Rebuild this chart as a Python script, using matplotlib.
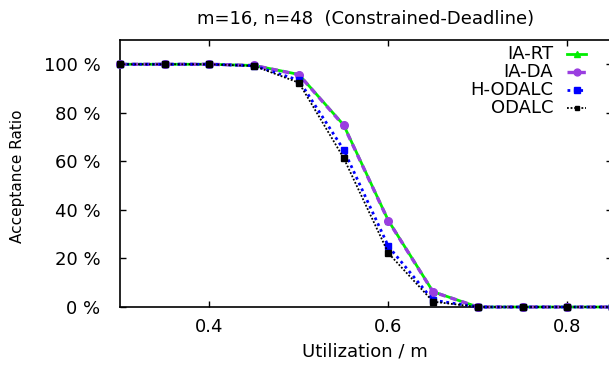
import matplotlib
matplotlib.use("Agg")
import matplotlib.pyplot as plt
from matplotlib.lines import Line2D

plt.rcParams['font.family'] = ['DejaVu Sans']

# data
util = [0.30, 0.35, 0.40, 0.45, 0.50, 0.55, 0.60, 0.65, 0.70, 0.75, 0.80, 0.85]
ia_rt = [100, 100, 100, 99.5, 95.8, 75.0, 35.6, 6.3, 0, 0, 0, 0]
ia_da = [100, 100, 100, 99.5, 95.7, 74.8, 35.5, 6.2, 0, 0, 0, 0]
h_odalc = [100, 100, 100, 99.4, 93.4, 64.8, 25.0, 2.8, 0, 0, 0, 0]
odalc = [100, 100, 100, 99.3, 92.4, 61.4, 22.2, 2.2, 0, 0, 0, 0]

names = ['IA-RT', 'IA-DA', 'H-ODALC', 'ODALC']
series = [ia_rt, ia_da, h_odalc, odalc]
styles = [
    dict(color='#00ee00', lw=2, ls='-', marker='^', ms=5),
    dict(color='#9a3ee0', lw=2.4, ls=(0, (2, 1.5)), marker='o', ms=5.5),
    dict(color='#0000ff', lw=2, ls=(0, (1, 1.3)), marker='s', ms=4.8),
    dict(color='black', lw=1.3, ls=(0, (1, 1)), marker='s', ms=3.8),
]

xticks = [0.4, 0.6, 0.8]
yticks = [0, 20, 40, 60, 80, 100]
ytick_labels = ['%d %%' % v for v in yticks]

fs = 13

fig = plt.figure(figsize=(6.09, 3.66), dpi=100)
ax = fig.add_axes([120/609, 1 - 307/366, (612 - 120)/609, (307 - 40)/366])

for i, (name, ys, st) in enumerate(zip(names, series, styles)):
    ax.plot(util, ys, label=name, clip_on=False, zorder=3 + i, **st)

ax.set_xlim(0.3, 0.85)
ax.set_ylim(0, 110)
ax.set_xticks(xticks)
ax.set_yticks(yticks)
ax.set_yticklabels(ytick_labels)
ax.tick_params(direction='in', top=True, right=True, length=4.5, width=1, labelsize=fs)
ax.tick_params(axis='x', pad=8)
ax.tick_params(axis='y', pad=14)
for s in ax.spines.values():
    s.set_linewidth(1.2)

ax.set_xlabel('Utilization / m', fontsize=fs)
ax.xaxis.set_label_coords((365 - 120)/492, (307 - 351)/267)
ax.xaxis.label.set_va('center')
ax.set_ylabel('Acceptance Ratio', fontsize=11)
ax.yaxis.set_label_coords((18 - 120)/492, (307 - 176)/267)
ax.yaxis.label.set_va('center')
fig.text(366/609, 1 - 19/366, 'm=16, n=48  (Constrained-Deadline)', ha='center', va='center', fontsize=fs)

# legend, text right-aligned with sample to the right
for i, (name, st) in enumerate(zip(names, styles)):
    yy = 1 - (54 + 18*i)/366
    fig.text(553/609, yy, name, ha='right', va='center', fontsize=fs)
    fig.add_artist(Line2D([567/609, 586/609], [yy, yy], color=st['color'], lw=st['lw'], ls=st['ls']))
    fig.add_artist(Line2D([576.5/609], [yy], color=st['color'], marker=st['marker'], ms=st['ms'] * 0.9, ls='none'))

fig.savefig('out.png', dpi=100)
